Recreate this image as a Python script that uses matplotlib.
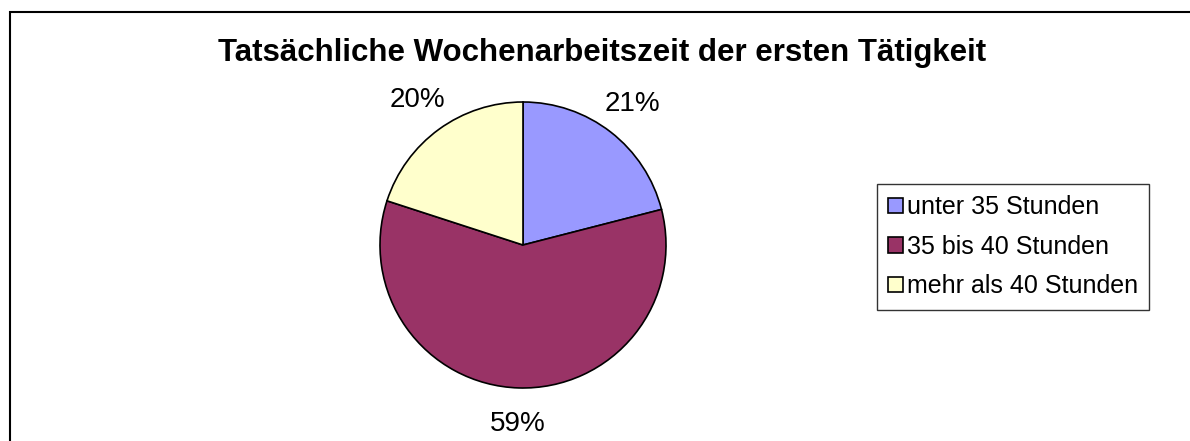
import matplotlib.pyplot as plt
from matplotlib.patches import Rectangle

plt.rc('font', family=['Liberation Sans', 'DejaVu Sans'])

title = "Tatsächliche Wochenarbeitszeit der ersten Tätigkeit"
categories = ["unter 35 Stunden", "35 bis 40 Stunden", "mehr als 40 Stunden"]
shares = [21, 59, 20]
colors = ["#9999FF", "#993366", "#FFFFCC"]

W, H = 1190, 441
fig = plt.figure(figsize=(W / 100, H / 100), dpi=100)

# outer chart frame (only left and top edges visible in the crop)
fig.patches.append(Rectangle((10 / W, -0.1), 1.2, (H - 12) / H + 0.1,
                             transform=fig.transFigure, fill=False,
                             edgecolor='black', linewidth=1.5))

# pie axes: centre at (523, 245) px, radius 143 px
r = 143
lim = 1.05
side = 2 * r * lim
cx, cy = 523, 245
ax = fig.add_axes([(cx - side / 2) / W, (H - cy - side / 2) / H, side / W, side / H])
wedges, texts, autotexts = ax.pie(shares, colors=colors, startangle=90, counterclock=False,
                                  autopct='%1.0f%%', pctdistance=1.25,
                                  wedgeprops=dict(edgecolor='black', linewidth=1.2),
                                  textprops=dict(fontsize=20))
ax.set_xlim(-lim, lim)
ax.set_ylim(-lim, lim)
ax.set_aspect('equal')
for w in wedges:
    w.set_clip_on(False)

fig.text(602 / W, 1 - 53 / H, title, ha='center', va='center', fontsize=22.5, fontweight='bold')

leg = fig.legend(wedges, categories, loc='upper left', bbox_to_anchor=(877 / W, 1 - 184 / H),
                 frameon=True, fancybox=False, edgecolor='black', fontsize=18,
                 handlelength=0.6, handleheight=0.6, handletextpad=0.15,
                 labelspacing=0.62, borderpad=0.45, borderaxespad=0)
leg.get_frame().set_linewidth(1.0)

fig.savefig('out.png', dpi=100)
